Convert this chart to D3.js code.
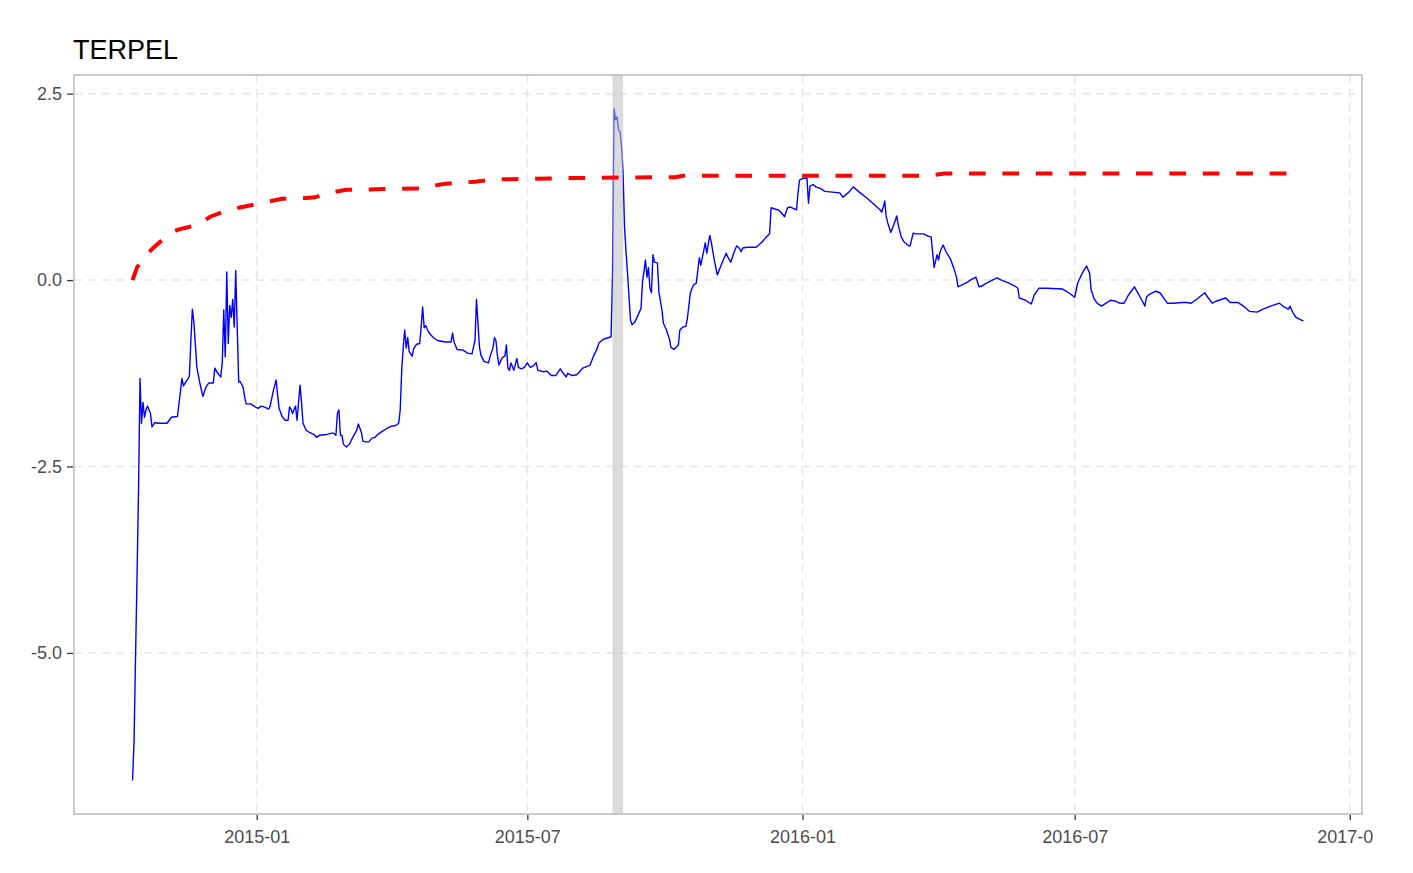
<!DOCTYPE html>
<html><head><meta charset="utf-8">
<script src="https://cdn.jsdelivr.net/npm/d3@7"></script>
<style>
body{margin:0;background:#fff;}
svg{display:block;}
text{font-family:"Liberation Sans",Arial,Helvetica,sans-serif;}
</style>
</head><body>
<svg id="chart" width="1373" height="873"></svg>
<script>
// ---- data (days counted from baseDate) ----
const title = "TERPEL";
const baseDate = "2015-01-01";
const blueDays = [-83,-82,-81,-80,-79,-78,-77,-76,-75,-74,-73,-72,-71,-70,-68,-66,-60,-57,-53,-51,-50,-49,-45,-44,-43,-42,-41,-40,-38,-36,-34,-32,-29,-28,-26,-24,-23,-22,-21,-20,-19,-18,-17,-16,-15,-14,-13,-12,-11,-9,-8,-7,-4,-1,
1,3,5,8,9,11,13,14,15,17,19,21,22,23,24,26,27,28,29,30,31,33,35,39,40,42,47,51,53,54,55,56,57,58,60,62,64,67,68,70,71,73,75,77,79,81,84,87,90,93,95,96,97,98,99,
100,101,102,104,105,107,109,110,111,112,113,115,118,121,126,130,131,132,134,138,141,144,145,146,147,148,149,150,152,155,156,158,159,160,161,162,164,165,166,167,168,169,170,172,174,175,177,179,181,183,185,187,188,192,194,197,
200,203,205,207,208,211,214,216,218,222,223,225,227,229,232,234,237,238,239,240,241,242,243,244,245,246,247,248,250,251,253,255,257,258,260,261,262,263,264,265,266,268,269,271,272,274,276,277,279,282,283,285,287,288,290,292,294,295,296,297,298,
300,301,303,304,306,308,310,312,314,315,317,319,321,323,324,325,328,334,338,340,343,344,347,349,351,353,355,357,361,362,363,365,368,369,370,372,374,377,380,385,390,392,396,399,
403,408,412,417,418,419,420,421,422,424,426,428,429,431,433,436,437,439,441,446,449,451,452,453,455,456,457,459,461,464,466,468,469,471,475,478,481,483,485,488,491,495,498,
503,507,509,510,514,518,520,523,528,539,543,547,549,552,555,557,558,560,562,565,568,571,574,577,580,583,587,590,593,594,595,597,
601,604,609,613,619,622,625,629,634,636,639,642,648,651,656,660,664,669,673,678,684,687,690,691,693,695,700];
const blueValues = [-6.71,-6.19,-5.06,-3.97,-2.82,-1.32,-1.92,-1.64,-1.84,-1.74,-1.69,-1.74,-1.79,-1.97,-1.91,-1.92,-1.92,-1.84,-1.83,-1.50,-1.32,-1.42,-1.29,-0.81,-0.39,-0.56,-0.86,-1.17,-1.38,-1.56,-1.44,-1.38,-1.38,-1.18,-1.25,-1.30,-1.10,-0.40,-1.03,0.11,-0.85,-0.34,-0.50,-0.26,-0.63,0.13,-0.64,-1.37,-1.36,-1.44,-1.57,-1.66,-1.66,-1.70,
-1.72,-1.69,-1.70,-1.73,-1.69,-1.50,-1.34,-1.54,-1.72,-1.83,-1.88,-1.88,-1.70,-1.73,-1.79,-1.69,-1.88,-1.64,-1.41,-1.64,-1.92,-2.01,-2.04,-2.08,-2.11,-2.08,-2.07,-2.05,-2.08,-1.79,-1.74,-2.08,-2.08,-2.20,-2.24,-2.20,-2.12,-2.01,-1.93,-2.04,-2.16,-2.17,-2.17,-2.12,-2.11,-2.07,-2.03,-1.99,-1.96,-1.95,-1.92,-1.74,-1.21,-0.90,-0.67,
-0.91,-0.77,-0.96,-1.02,-0.92,-0.86,-0.85,-0.63,-0.36,-0.64,-0.61,-0.70,-0.77,-0.81,-0.83,-0.83,-0.71,-0.83,-0.93,-0.94,-0.98,-0.99,-0.90,-0.81,-0.26,-0.58,-0.90,-1.01,-1.09,-1.11,-1.03,-0.91,-0.77,-0.81,-1.01,-1.14,-1.05,-1.03,-1.02,-0.87,-1.18,-1.21,-1.11,-1.21,-1.05,-1.17,-1.19,-1.17,-1.11,-1.17,-1.15,-1.11,-1.21,-1.23,-1.22,-1.28,
-1.28,-1.19,-1.25,-1.30,-1.25,-1.28,-1.27,-1.23,-1.18,-1.15,-1.14,-1.03,-0.95,-0.84,-0.79,-0.78,-0.76,0.09,2.30,2.15,2.19,2.01,1.99,1.79,1.45,0.71,0.38,0.09,-0.54,-0.60,-0.56,-0.47,-0.38,-0.03,0.27,0.04,0.17,-0.11,-0.17,0.34,0.24,0.23,-0.16,-0.40,-0.58,-0.67,-0.79,-0.90,-0.93,-0.87,-0.67,-0.63,-0.62,-0.52,-0.17,-0.07,-0.04,0.13,0.30,0.20,0.30,
0.50,0.36,0.60,0.51,0.27,0.07,0.17,0.27,0.36,0.31,0.24,0.36,0.46,0.42,0.38,0.43,0.44,0.44,0.51,0.56,0.62,0.97,0.95,0.94,0.90,0.85,0.97,0.98,0.94,1.17,1.34,1.36,1.37,1.03,1.26,1.28,1.25,1.23,1.19,1.18,1.17,1.11,1.18,1.25,
1.18,1.10,1.03,0.94,0.91,0.98,1.06,0.85,0.77,0.64,0.74,0.86,0.74,0.58,0.51,0.46,0.46,0.63,0.62,0.62,0.59,0.58,0.38,0.17,0.34,0.27,0.38,0.47,0.38,0.28,0.17,0.04,-0.09,-0.07,-0.03,0.01,0.04,-0.09,-0.08,-0.04,-0.01,0.03,0.00,
-0.04,-0.08,-0.11,-0.24,-0.27,-0.32,-0.20,-0.11,-0.11,-0.12,-0.17,-0.23,-0.04,0.09,0.19,0.09,-0.13,-0.25,-0.31,-0.35,-0.31,-0.27,-0.28,-0.31,-0.31,-0.20,-0.09,-0.20,-0.31,-0.35,-0.23,-0.19,
-0.15,-0.17,-0.31,-0.31,-0.30,-0.30,-0.31,-0.25,-0.17,-0.23,-0.31,-0.28,-0.24,-0.30,-0.30,-0.35,-0.42,-0.43,-0.39,-0.35,-0.31,-0.36,-0.39,-0.35,-0.44,-0.50,-0.55];
const redDays   = [-83,-80,-73,-67,-58,-52,-39,-31,-23,-12,-2,7,17,27,39,48,60,110,125,146,160,215,280,285,450,460,692];
const redValues = [0.00,0.17,0.36,0.47,0.63,0.68,0.74,0.85,0.91,0.97,1.01,1.05,1.09,1.09,1.11,1.17,1.21,1.23,1.29,1.32,1.35,1.37,1.38,1.40,1.40,1.43,1.43];
const bandDates = ["2015-08-27","2015-09-03"];
const xTickDates = ["2015-01-01","2015-07-01","2016-01-01","2016-07-01","2017-01-01"];
const yTicks = [-5.0,-2.5,0.0,2.5];

// ---- setup ----
const parse = d3.utcParse("%Y-%m-%d");
const base = parse(baseDate);
const toDate = d => new Date(base.getTime() + d * 864e5);
const blue = blueDays.map((d,i)=>({date:toDate(d), v:blueValues[i]}));
const red = redDays.map((d,i)=>({date:toDate(d), v:redValues[i]}));

const P = {left:74, top:75, right:1362, bottom:814};
const svg = d3.select("#chart");

const allDays = blueDays.concat(redDays);
const dMin = d3.min(allDays), dMax = d3.max(allDays);
const dPad = (dMax - dMin) * 0.05;
const x = d3.scaleUtc().domain([toDate(dMin - dPad), toDate(dMax + dPad)]).range([P.left, P.right]);
const allV = blueValues.concat(redValues);
const vMin = d3.min(allV), vMax = d3.max(allV);
const vPad = (vMax - vMin) * 0.05;
const y = d3.scaleLinear().domain([vMin - vPad, vMax + vPad]).range([P.bottom, P.top]);

svg.append("rect").attr("width",1373).attr("height",873).attr("fill","#fff");

// title
svg.append("text").attr("x",73).attr("y",59).attr("font-size",27).attr("fill","#000").text(title);

// grid
const grid = svg.append("g");
grid.selectAll("line.h").data(yTicks).join("line")
  .attr("x1",P.left).attr("x2",P.right).attr("y1",d=>y(d)).attr("y2",d=>y(d))
  .attr("stroke","#E6E6E6").attr("stroke-width",1.5).attr("stroke-dasharray","8,6");
grid.selectAll("line.v").data(xTickDates.map(parse)).join("line")
  .attr("y1",P.top).attr("y2",P.bottom).attr("x1",d=>x(d)).attr("x2",d=>x(d))
  .attr("stroke","#E6E6E6").attr("stroke-width",1.5).attr("stroke-dasharray","8,6");

svg.append("clipPath").attr("id","panel").append("rect")
  .attr("x",P.left).attr("y",P.top).attr("width",P.right-P.left).attr("height",P.bottom-P.top);
const g = svg.append("g").attr("clip-path","url(#panel)");

const line = d3.line().x(d=>x(d.date)).y(d=>y(d.v));
g.append("path").datum(blue).attr("d",line).attr("fill","none")
  .attr("stroke","#0000FF").attr("stroke-width",1.4).attr("stroke-linejoin","round");

// event band
const b0 = parse(bandDates[0]), b1 = parse(bandDates[1]);
g.append("rect").attr("x",x(b0)).attr("width",x(b1)-x(b0))
  .attr("y",P.top).attr("height",P.bottom-P.top)
  .attr("fill","#BEBEBE").attr("opacity",0.55);

g.append("path").datum(red).attr("d",line).attr("fill","none")
  .attr("stroke","#FF0000").attr("stroke-width",4).attr("stroke-dasharray","16.7,16.7");

// border
svg.append("rect").attr("x",P.left).attr("y",P.top).attr("width",P.right-P.left).attr("height",P.bottom-P.top)
  .attr("fill","none").attr("stroke","#BDBDBD").attr("stroke-width",1.6);

// axes
const yAxis = svg.append("g").attr("transform",`translate(${P.left-1},0)`)
  .call(d3.axisLeft(y).tickValues(yTicks).tickSize(6).tickPadding(5).tickFormat(d=>d.toFixed(1)));
const xAxis = svg.append("g").attr("transform",`translate(0,${P.bottom+1})`)
  .call(d3.axisBottom(x).tickValues(xTickDates.map(parse)).tickSize(5).tickPadding(10).tickFormat(d3.utcFormat("%Y-%m")));
[yAxis, xAxis].forEach(a=>{
  a.select(".domain").remove();
  a.selectAll(".tick line").attr("stroke","#333").attr("stroke-width",1.3);
  a.selectAll(".tick text").attr("fill","#4D4D4D").attr("font-size",18)
    .attr("font-family","'Liberation Sans',Arial,sans-serif");
});
</script>
</body></html>
